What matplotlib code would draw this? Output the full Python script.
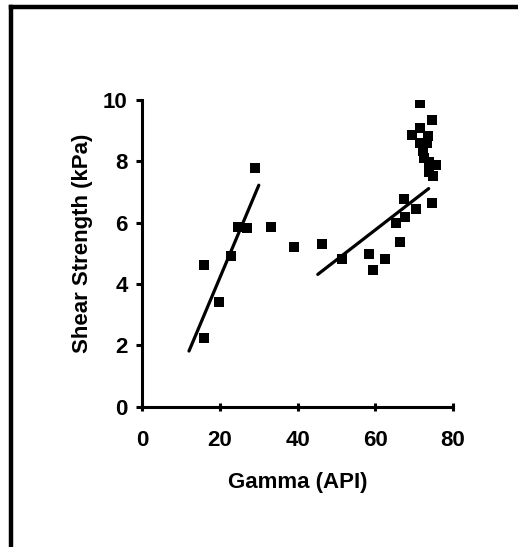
import matplotlib
matplotlib.use("Agg")
import matplotlib.pyplot as plt
from matplotlib.lines import Line2D

plt.rcParams['font.family'] = ['Liberation Sans', 'DejaVu Sans']

gamma = [15.9, 15.9, 19.8, 22.9, 24.6, 27.0, 29.0, 33.1, 39.2, 46.3, 51.4,
         58.5, 59.4, 62.5, 65.5, 66.4, 67.7, 67.5, 70.5, 74.7, 74.9, 73.8,
         75.6, 73.8, 72.7, 72.4, 71.5, 73.3, 69.5, 73.5, 71.5, 74.7, 71.5]
shear = [4.61, 2.25, 3.42, 4.91, 5.86, 5.81, 7.79, 5.86, 5.20, 5.31, 4.80,
         4.97, 4.45, 4.82, 6.00, 5.38, 6.18, 6.76, 6.43, 6.65, 7.52, 7.66,
         7.88, 7.99, 8.12, 8.34, 8.60, 8.60, 8.86, 8.82, 9.08, 9.35, 9.89]

trend1_x = [12.0, 30.0]
trend1_y = [1.81, 7.22]
trend2_x = [45.2, 73.8]
trend2_y = [4.31, 7.11]

xticks = [0, 20, 40, 60, 80]
yticks = [0, 2, 4, 6, 8, 10]

fig = plt.figure(figsize=(5.18, 5.47), dpi=100)
ax = fig.add_axes([0.275, 0.2568, 0.599, 0.5604])

ax.plot(trend1_x, trend1_y, color='black', lw=2.3, solid_capstyle='round', zorder=2)
ax.plot(trend2_x, trend2_y, color='black', lw=2.3, solid_capstyle='round', zorder=2)
ax.plot(gamma, shear, linestyle='none', marker='s', markersize=7.8,
        color='black', markeredgewidth=0, zorder=3)

ax.set_xlim(0, 80)
ax.set_ylim(0, 10)
ax.set_xticks(xticks)
ax.set_yticks(yticks)
ax.set_xticklabels([str(t) for t in xticks], fontsize=16, fontweight='bold')
ax.set_yticklabels([str(t) for t in yticks], fontsize=16, fontweight='bold')
ax.tick_params(axis='x', direction='inout', length=6, width=2.2, pad=14)
ax.tick_params(axis='y', direction='out', length=4, width=2.2, pad=6.5)

for s in ['top', 'right']:
    ax.spines[s].set_visible(False)
for s in ['left', 'bottom']:
    ax.spines[s].set_linewidth(2.2)

ax.set_xlabel('Gamma (API)', fontsize=16, fontweight='bold', labelpad=15)
ax.set_ylabel('Shear Strength (kPa)', fontsize=16, fontweight='bold')
ax.yaxis.set_label_coords(-0.158, 0.533)

# outer frame (cropped: only top and left sides visible)
fig.add_artist(Line2D([11/518, 11/518], [0, 1 - 7/547], transform=fig.transFigure,
                      color='black', lw=3.2, solid_capstyle='projecting'))
fig.add_artist(Line2D([11/518, 1.0], [1 - 7/547, 1 - 7/547], transform=fig.transFigure,
                      color='black', lw=3.2, solid_capstyle='projecting'))

fig.savefig('out.png', dpi=100)
